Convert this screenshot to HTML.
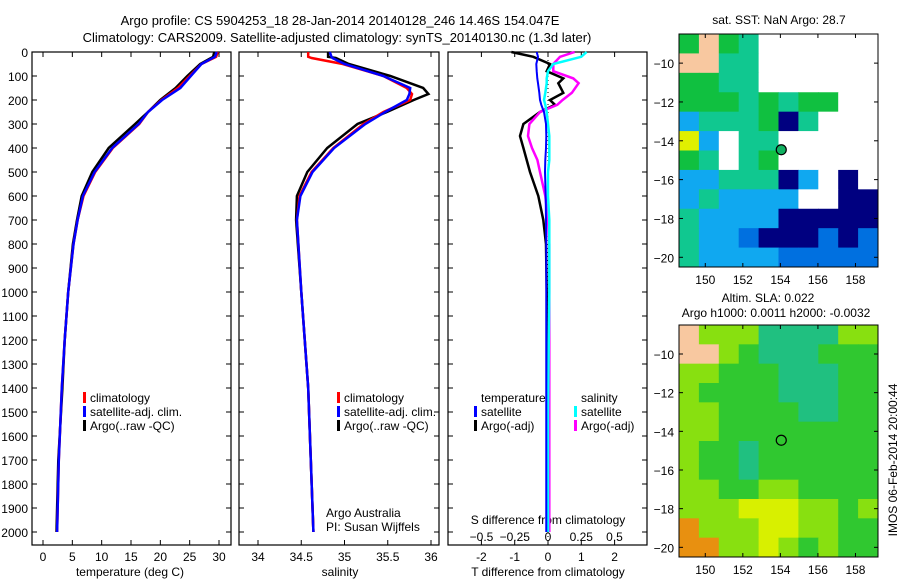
<!DOCTYPE html>
<html><head><meta charset="utf-8"><style>
body{margin:0;background:#fff}
svg{display:block;font-family:"Liberation Sans",sans-serif;font-size:12px}
</style></head><body>
<svg id="c" width="900" height="580" xmlns="http://www.w3.org/2000/svg">
<g id="static">
<text x="340" y="25" text-anchor="middle" font-size="13">Argo profile: CS 5904253_18 28-Jan-2014 20140128_246 14.46S 154.047E</text>
<text x="337" y="42" text-anchor="middle" font-size="13">Climatology: CARS2009. Satellite-adjusted climatology: synTS_20140130.nc (1.3d later)</text>
<text x="130" y="576" text-anchor="middle">temperature (deg C)</text>
<text x="340" y="576" text-anchor="middle">salinity</text>
<text x="548" y="576" text-anchor="middle">T difference from climatology</text>
<text x="548" y="524" text-anchor="middle">S difference from climatology</text>
<text x="326" y="517">Argo Australia</text>
<text x="326" y="531">PI: Susan Wijffels</text>
<text x="779" y="24" text-anchor="middle">sat. SST: NaN Argo: 28.7</text>
<text x="768" y="302" text-anchor="middle">Altim. SLA: 0.022</text>
<text x="776" y="317" text-anchor="middle">Argo h1000: 0.0011 h2000: -0.0032</text>
<text transform="translate(897,460) rotate(-90)" text-anchor="middle">IMOS 06-Feb-2014 20:00:44</text>
</g>
</svg>
<script>
const depthT=[0,20,50,100,150,200,250,300,400,500,600,700,800,1000,1200,1400,1700,2000];
const tempClim=[29.8,29.5,27,25,23,20.2,17.9,16.4,11.9,8.9,6.9,5.9,5.2,4.3,3.7,3.2,2.7,2.4];
const tempSat=[29.6,29.3,27,25.2,23.4,20.3,17.9,16.3,11.8,8.8,6.8,5.9,5.2,4.3,3.7,3.2,2.7,2.4];
const tempArgo=[29.2,29,26.8,24.6,22.6,20,17.9,15.7,11.2,8.4,6.6,5.8,5.1,4.3,3.7,3.3,2.6,2.3];
const depthS=[0,20,25,50,100,150,175,200,250,300,400,500,600,700,1000,1400,2000];
const salClim=[34.58,34.58,34.62,34.98,35.45,35.72,35.78,35.76,35.45,35.22,34.87,34.62,34.48,34.45,34.5,34.58,34.64];
const salSat=[34.83,34.85,34.86,35.0,35.45,35.76,35.75,35.72,35.47,35.24,34.88,34.63,34.49,34.45,34.5,34.58,34.64];
const salArgo=[34.81,34.81,34.9,35.05,35.53,35.91,35.97,35.8,35.49,35.15,34.8,34.57,34.45,34.44,34.5,34.58,34.64];
const depthD=[0,20,50,80,110,130,170,200,220,250,300,350,400,450,500,600,700,800,1000,1500,2000];
const dTsat=[-0.34,-0.3,-0.35,-0.34,-0.32,-0.3,-0.26,-0.24,-0.2,-0.12,-0.06,-0.05,-0.06,-0.08,-0.09,-0.07,-0.06,-0.05,-0.05,-0.05,-0.05];
const dTargo=[-1.1,-0.44,0.06,-0.04,0.46,0.31,0.46,0.06,0.21,-0.24,-0.74,-0.84,-0.74,-0.64,-0.54,-0.29,-0.14,-0.06,-0.04,-0.04,-0.04];
const dSsat=[0.29,0.25,0.04,0.0,-0.01,-0.01,-0.02,-0.03,-0.02,-0.01,0.0,0.01,0.01,0.01,0.0,0.0,0.01,0.01,0.01,0.0,0.0];
const dSargo=[0.2,0.09,0.04,0.04,0.19,0.23,0.18,0.11,0.07,-0.06,-0.14,-0.15,-0.12,-0.08,-0.06,-0.02,0.0,0.01,0.01,0.01,0.01];
const tTicks=[0,5,10,15,20,25,30];
const sTicks=[34,34.5,35,35.5,36];
const dTticks=[-2,-1,0,1,2];
const dSticks=[-0.5,-0.25,0,0.25,0.5];
const depthTicks=[0,100,200,300,400,500,600,700,800,900,1000,1100,1200,1300,1400,1500,1600,1700,1800,1900,2000];
const sstRows=["GLGTWWWWWW","LLTTWWWWWW","GGTTWWWWWW","GGGTGTGGWW","CTTTGNTWWW","YCWTTWWWWW","GTWTGWWWWW","CCTTTNCWNW","CTCCCCWWNN","TCCCCNNNNN","TCCBNNNBNB","TCCCCBBBBB"];
const slaRows=["Llllttttll","LLlgtttggg","llgggtttgg","lggggtttgg","llggggttgg","llgggggggg","lggtgggggg","lggtgggggg","llggllgggg","lllyyyllgl","olllyyllgg","oollylglgg"];
const lonTicks=[150,152,154,156,158];
const latTicks=[-10,-12,-14,-16,-18,-20];
const argoLon=154.047, argoLat=-14.46;

const NS="http://www.w3.org/2000/svg";
const svg=document.getElementById('c');
function el(t,a,p){const e=document.createElementNS(NS,t);for(const k in a)e.setAttribute(k,a[k]);(p||svg).appendChild(e);return e;}
const yD=d=>52+0.24*d;
const xT=v=>43+v*5.867;
const xS=v=>258+(v-34)*86.5;
const xDT=v=>548+v*33.3;
const xDS=v=>548+v*133;
const panels=[[32,231],[239,439],[448,647]];
panels.forEach((p,i)=>{
  const r=el('rect',{x:p[0],y:52,width:p[1]-p[0],height:493,fill:'none',stroke:'#000','stroke-width':1.2});
  
  
  depthTicks.forEach(d=>{
    el('line',{x1:p[0],x2:p[0]+5,y1:yD(d),y2:yD(d),stroke:'#000'});
    el('line',{x1:p[1]-5,x2:p[1],y1:yD(d),y2:yD(d),stroke:'#000'});
  });
});
depthTicks.forEach(d=>{
  const t=el('text',{x:28,y:yD(d)+5,'text-anchor':'end'});t.textContent=d;
  
  
});
function xticks(arr,fx,y,fmt){arr.forEach(v=>{
  el('line',{x1:fx(v),x2:fx(v),y1:545,y2:540,stroke:'#000'});
  el('line',{x1:fx(v),x2:fx(v),y1:52,y2:57,stroke:'#000'});
  const t=el('text',{x:fx(v),y:y,'text-anchor':'middle'});t.textContent=fmt?fmt(v):v;
  
  
});}
xticks(tTicks,xT,561);
xticks(sTicks,xS,561);
xticks(dTticks,xDT,561);
dSticks.forEach(v=>{const t=el('text',{x:xDS(v),y:541,'text-anchor':'middle'});t.textContent=v===0?'0':(v<0?'\u2212':'')+String(Math.abs(v)).replace(/^0/,'0');
  
  });
// zero dotted line
el('line',{x1:548,x2:548,y1:52,y2:545,stroke:'#000','stroke-dasharray':'1,3'});
function line(xs,ds,fx,col,w,name){
  const pts=xs.map((v,i)=>fx(v).toFixed(1)+','+yD(ds[i]).toFixed(1)).join(' ');
  const e=el('polyline',{points:pts,fill:'none',stroke:col,'stroke-width':w});
  
  
}
line(tempArgo,depthT,xT,'#000',2.5,'temp-argo-line');
line(tempClim,depthT,xT,'#f00',2.5,'temp-climatology-line');
line(tempSat,depthT,xT,'#00f',2.5,'temp-satellite-line');
line(salArgo,depthS,xS,'#000',2.5,'sal-argo-line');
line(salClim,depthS,xS,'#f00',2.5,'sal-climatology-line');
line(salSat,depthS,xS,'#00f',2.5,'sal-satellite-line');
line(dTargo,depthD,xDT,'#000',2.5,'tdiff-argo-line');
line(dSargo,depthD,xDS,'#f0f',2.5,'sdiff-argo-line');
line(dSsat,depthD,xDS,'#0ff',2.5,'sdiff-satellite-line');
line(dTsat,depthD,xDT,'#00f',2,'tdiff-satellite-line');
function leg(x,y,col,txt,name){
  if(col){const m=el('rect',{x:x-7,y:y-10,width:3,height:11,fill:col});}
  const t=el('text',{x:x,y:y});t.textContent=txt;
  
  
}
leg(90,402,'#f00','climatology','legend-climatology');
leg(90,416,'#00f','satellite-adj. clim.','legend-satellite-adj');
leg(90,430,'#000','Argo(..raw -QC)','legend-argo');
leg(344,402,'#f00','climatology','legend-climatology-2');
leg(344,416,'#00f','satellite-adj. clim.','legend-satellite-adj-2');
leg(344,430,'#000','Argo(..raw -QC)','legend-argo-2');
leg(481,402,null,'temperature','legend-temperature-header');
leg(481,416,'#00f','satellite','legend-t-satellite');
leg(481,430,'#000','Argo(-adj)','legend-t-argo');
leg(581,402,null,'salinity','legend-salinity-header');
leg(581,416,'#0ff','satellite','legend-s-satellite');
leg(581,430,'#f0f','Argo(-adj)','legend-s-argo');
// maps
const sstCol={G:'#10c040',L:'#f8c8a0',T:'#10c890',W:'#ffffff',C:'#10a8f0',B:'#0070e0',N:'#000080',Y:'#e0f000'};
const slaCol={L:'#f8c8a0',l:'#88e010',g:'#30c830',t:'#20c080',y:'#d8f000',o:'#e89010'};
function map(top,bottom,rows,cols,name,filled){
  const x0=679,x1=878;
  const lonX=v=>x0+(v-148.6)*(x1-x0)/10.6;
  const latY=v=>top+(-8.5-v)*(bottom-top)/12;
  const nr=rows.length,nc=rows[0].length;
  const cw=(x1-x0)/nc,ch=(bottom-top)/nr;
  rows.forEach((r,i)=>{[...r].forEach((c,j)=>{
    const e=el('rect',{x:x0+j*cw,y:top+i*ch,width:cw+0.5,height:ch+0.5,fill:cols[c]});
    
    
  });});
  const b=el('rect',{x:x0,y:top,width:x1-x0,height:bottom-top,fill:'none',stroke:'#000'});
  
  
  lonTicks.forEach(v=>{el('line',{x1:lonX(v),x2:lonX(v),y1:bottom,y2:bottom-4,stroke:'#000'});el('line',{x1:lonX(v),x2:lonX(v),y1:top,y2:top+4,stroke:'#000'});
    const t=el('text',{x:lonX(v),y:bottom+17,'text-anchor':'middle'});t.textContent=v;
    
    });
  latTicks.forEach(v=>{el('line',{x1:x0,x2:x0+4,y1:latY(v),y2:latY(v),stroke:'#000'});el('line',{x1:x1-4,x2:x1,y1:latY(v),y2:latY(v),stroke:'#000'});
    const t=el('text',{x:x0-5,y:latY(v)+5,'text-anchor':'end'});t.textContent='\u2212'+Math.abs(v);
    
    });
  const c=el('circle',{cx:lonX(argoLon),cy:latY(argoLat),r:5,fill:filled?'#10b060':'none',stroke:'#000','stroke-width':1.2});
  
  
}
map(34,267,sstRows,sstCol,'sst-map',true);
map(325,557,slaRows,slaCol,'sla-map',false);
</script>
</body></html>
